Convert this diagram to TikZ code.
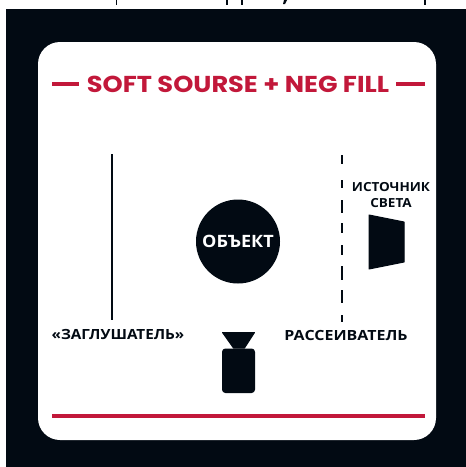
\documentclass[tikz,border=0pt]{standalone}
\usepackage{fontspec}
\setmainfont{Open Sans}
\newfontfamily\titlefont{Poppins}
\definecolor{ink}{HTML}{020A13}
\definecolor{crim}{HTML}{C2183A}
\tikzset{
  lbl/.style={font=\bfseries\fontsize{14}{15}\selectfont, text=ink, inner sep=0pt, align=center, transform shape},
  redline/.style={draw=crim, line width=4pt},
  solidshape/.style={fill=ink, draw=ink, line width=1pt, line join=round},
  screen/.style={draw=ink, line width=2pt}
}
\begin{document}
\begin{tikzpicture}[x=1pt,y=-1pt]
\useasboundingbox (0,0) rectangle (466,467);
\fill[white] (0,0) rectangle (466,467);
\fill[ink] (6,9) rectangle (466,467);
\fill[ink] (115.5,0) rectangle (117,5);
\fill[ink] (226,0) rectangle (228,5);
\fill[ink] (241,0) rectangle (243,5);
\fill[ink] (284,0) -- (287,0) -- (285,4) -- (283,4) -- cycle;
\fill[ink] (424,0) rectangle (426,5);
\fill[white, rounded corners=22pt] (38,42) rectangle (436,440);
\node[font=\titlefont\bfseries\fontsize{23}{24}\selectfont, text=crim, inner sep=0pt, xscale=1.115, transform shape] (title) at (238,84) {SOFT SOURSE + NEG FILL};
\coordinate (tl1) at (52,84); \coordinate (tl2) at (79,84);
\coordinate (tr1) at (396,84); \coordinate (tr2) at (425,84);
\draw[redline] (tl1) -- (tl2);
\draw[redline] (tr1) -- (tr2);
\coordinate (b1) at (52,416); \coordinate (b2) at (425,416);
\draw[redline] (b1) -- (b2);
\coordinate (f1) at (112,154); \coordinate (f2) at (112,320);
\draw[screen] (f1) -- (f2);
\draw[screen] (342,155) -- (342,164);
\draw[screen] (342,180) -- (342,188);
\draw[screen] (342,200) -- (342,213);
\draw[screen] (342,223) -- (342,233);
\draw[screen] (342,245) -- (342,255);
\draw[screen] (342,266) -- (342,280);
\draw[screen] (342,290) -- (342,303);
\draw[screen] (342,315) -- (342,322);
\node[circle, fill=ink, minimum size=84pt, inner sep=0pt] (obj) at (238,241.5) {};
\node[lbl, font=\bfseries\fontsize{17}{18}\selectfont, text=white, xscale=1.06] (objt) at (obj.center) {ОБЪЕКТ};
\node[lbl, xscale=1.09] (zag) at (118,335) {«ЗАГЛУШАТЕЛЬ»};
\node[lbl, xscale=1.14] (ras) at (346,336) {РАССЕИВАТЕЛЬ};
\node[lbl, font=\bfseries\fontsize{12.5}{15}\selectfont, xscale=1.08] (ist) at (391,195) {ИСТОЧНИК\\[1pt]СВЕТА};
\draw[solidshape] (369,215) -- (404,222) -- (404,262) -- (369,269) -- cycle;
\draw[solidshape] (222.5,332.5) -- (254.5,332.5) -- (244.5,348) -- (233.5,348) -- cycle;
\draw[solidshape, rounded corners=3pt] (222.5,349) rectangle (254.5,392.5);
\end{tikzpicture}
\end{document}
